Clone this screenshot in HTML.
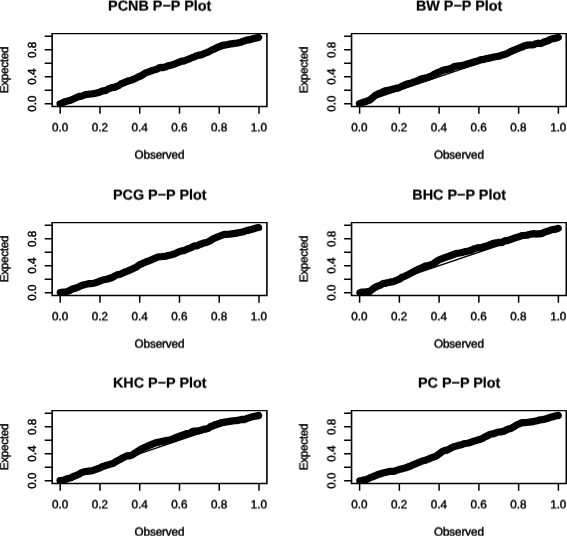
<!DOCTYPE html>
<html><head><meta charset="utf-8"><title>P-P Plots</title>
<style>
html,body{margin:0;padding:0;background:#fff;}
body{width:567px;height:536px;overflow:hidden;}
svg{display:block;}
text{font-family:"Liberation Sans",Arial,Helvetica,sans-serif;fill:#000;text-rendering:geometricPrecision;}
.t{font-size:14.4px;font-weight:bold;text-anchor:middle;stroke:#000;stroke-width:0.2px;}
.l{font-size:11.7px;text-anchor:middle;stroke:#000;stroke-width:0.45px;}
.ob{letter-spacing:-0.1px;}
.ex{letter-spacing:-0.3px;}
.ax{stroke:#000;stroke-width:1.15;fill:none;stroke-linecap:butt;}
.pts{stroke:#000;stroke-width:7.2;fill:none;stroke-linecap:round;stroke-linejoin:round;}
.ref{stroke:#000;stroke-width:1.4;fill:none;}
</style></head><body>
<svg width="567" height="536" viewBox="0 0 567 536">
<rect x="0" y="0" width="567" height="536" fill="#fff"/>

<defs><filter id="y12" x="-5%" y="-40%" width="110%" height="180%" color-interpolation-filters="sRGB"><feConvolveMatrix order="1 2" kernelMatrix="0.40 0.60" divisor="1" targetX="0" targetY="1" edgeMode="none" preserveAlpha="false"/></filter><filter id="y7" x="-5%" y="-40%" width="110%" height="180%" color-interpolation-filters="sRGB"><feConvolveMatrix order="1 2" kernelMatrix="0.65 0.35" divisor="1" targetX="0" targetY="1" edgeMode="none" preserveAlpha="false"/></filter><filter id="y13" x="-5%" y="-40%" width="110%" height="180%" color-interpolation-filters="sRGB"><feConvolveMatrix order="1 2" kernelMatrix="0.35 0.65" divisor="1" targetX="0" targetY="1" edgeMode="none" preserveAlpha="false"/></filter><filter id="x4" x="-40%" y="-5%" width="180%" height="110%" color-interpolation-filters="sRGB"><feConvolveMatrix order="2 1" kernelMatrix="0.80 0.20" divisor="1" targetX="1" targetY="0" edgeMode="none" preserveAlpha="false"/></filter><filter id="x8" x="-40%" y="-5%" width="180%" height="110%" color-interpolation-filters="sRGB"><feConvolveMatrix order="2 1" kernelMatrix="0.60 0.40" divisor="1" targetX="1" targetY="0" edgeMode="none" preserveAlpha="false"/></filter><filter id="x12" x="-40%" y="-5%" width="180%" height="110%" color-interpolation-filters="sRGB"><feConvolveMatrix order="2 1" kernelMatrix="0.40 0.60" divisor="1" targetX="1" targetY="0" edgeMode="none" preserveAlpha="false"/></filter></defs>
<g id="p1">
<clipPath id="c1"><rect x="52.10" y="33.60" width="214.70" height="72.80"/></clipPath>
<g filter="url(#y12)"><text class="t" x="159.75" y="10">PCNB P−P Plot</text></g>
<g clip-path="url(#c1)">
<line class="ref" x1="60.05" y1="103.70" x2="258.85" y2="36.30"/>
<path class="pts" d="M60.05 103.70 L61.65 103.45 L63.25 102.31 L64.85 101.74 L66.45 101.29 L68.05 100.88 L69.65 100.43 L71.25 99.99 L72.85 99.29 L74.45 98.55 L76.05 97.79 L77.65 97.05 L79.25 96.42 L80.85 96.38 L82.45 95.91 L84.05 95.10 L85.65 94.62 L87.25 94.45 L88.85 94.18 L90.45 94.02 L92.05 93.86 L93.65 93.57 L95.25 93.34 L96.85 92.92 L98.45 92.50 L100.05 92.08 L101.65 91.31 L103.25 90.77 L104.85 90.75 L106.45 90.20 L108.05 89.05 L109.65 88.47 L111.25 87.90 L112.85 87.32 L114.45 87.34 L116.05 86.63 L117.65 85.93 L119.25 85.22 L120.85 83.95 L122.45 83.31 L124.05 82.72 L125.65 81.93 L127.25 81.34 L128.85 80.75 L130.45 80.48 L132.05 79.81 L133.65 79.12 L135.25 78.45 L136.85 77.70 L138.45 76.80 L140.05 76.30 L141.65 75.40 L143.25 74.51 L144.85 73.26 L146.45 72.59 L148.05 72.12 L149.65 71.45 L151.25 70.81 L152.85 70.24 L154.45 69.97 L156.05 69.40 L157.65 68.82 L159.25 67.77 L160.85 67.42 L162.45 67.64 L164.05 67.29 L165.65 66.94 L167.25 65.97 L168.85 65.62 L170.45 65.33 L172.05 64.97 L173.65 64.36 L175.25 63.75 L176.85 63.05 L178.45 62.44 L180.05 61.81 L181.65 61.17 L183.25 61.27 L184.85 60.63 L186.45 59.98 L188.05 59.31 L189.65 58.71 L191.25 58.04 L192.85 57.36 L194.45 56.88 L196.05 55.88 L197.65 55.50 L199.25 55.11 L200.85 54.88 L202.45 54.29 L204.05 53.65 L205.65 53.01 L207.25 52.39 L208.85 51.68 L210.45 50.81 L212.05 49.95 L213.65 49.39 L215.25 48.53 L216.85 47.60 L218.45 46.96 L220.05 46.25 L221.65 45.61 L223.25 45.13 L224.85 45.03 L226.45 44.77 L228.05 44.51 L229.65 44.04 L231.25 43.82 L232.85 43.60 L234.45 43.37 L236.05 43.22 L237.65 42.91 L239.25 42.58 L240.85 42.19 L242.45 41.40 L244.05 41.01 L245.65 40.47 L247.25 39.93 L248.85 40.02 L250.45 39.47 L252.05 39.05 L253.65 38.55 L255.25 38.21 L256.85 37.88 L258.45 37.54 L258.57 37.43"/>
</g>
<path class="ax" style="stroke-width:1.25" d="M51.50 33.60H267.50"/>
<path class="ax" style="stroke-width:1.6;stroke-linejoin:miter" d="M52.15 33.60V106.50H266.90V33.60"/>
<path class="ax" style="stroke-width:1.5" d="M60.20 106.40v7.3M52.10 103.70h-7.4M99.96 106.40v7.3M52.10 90.22h-7.4M139.72 106.40v7.3M52.10 76.74h-7.4M179.48 106.40v7.3M52.10 63.26h-7.4M219.24 106.40v7.3M52.10 49.78h-7.4M259.00 106.40v7.3M52.10 36.30h-7.4"/>
<g filter="url(#y7)"><text class="l" x="60.05" y="131">0.0</text></g>
<g filter="url(#y7)"><text class="l" x="99.81" y="131">0.2</text></g>
<g filter="url(#y7)"><text class="l" x="139.57" y="131">0.4</text></g>
<g filter="url(#y7)"><text class="l" x="179.33" y="131">0.6</text></g>
<g filter="url(#y7)"><text class="l" x="219.09" y="131">0.8</text></g>
<g filter="url(#y7)"><text class="l" x="258.85" y="131">1.0</text></g>
<text class="l" transform="translate(36 103.70) rotate(-90)">0.0</text>
<text class="l" transform="translate(36 76.74) rotate(-90)">0.4</text>
<text class="l" transform="translate(36 49.78) rotate(-90)">0.8</text>
<g filter="url(#y13)"><text class="l ob" x="159.45" y="158">Observed</text></g>
<g filter="url(#x4)"><text class="l ex" transform="translate(8 70.00) rotate(-90)">Expected</text></g>
</g>
<g id="p2">
<clipPath id="c2"><rect x="351.50" y="33.60" width="214.70" height="72.80"/></clipPath>
<g filter="url(#y12)"><text class="t" x="459.15" y="10">BW P−P Plot</text></g>
<g clip-path="url(#c2)">
<line class="ref" x1="359.45" y1="103.70" x2="558.25" y2="36.30"/>
<path class="pts" d="M359.45 103.70 L361.05 103.06 L362.65 102.53 L364.25 101.97 L365.85 101.50 L367.45 100.93 L369.05 100.35 L370.65 99.37 L372.25 97.99 L373.85 96.61 L375.45 95.24 L377.05 94.47 L378.65 93.64 L380.25 93.06 L381.85 92.49 L383.45 91.38 L385.05 90.86 L386.65 90.66 L388.25 90.34 L389.85 89.83 L391.45 89.51 L393.05 89.03 L394.65 88.66 L396.25 88.12 L397.85 88.07 L399.45 87.51 L401.05 86.57 L402.65 85.96 L404.25 85.35 L405.85 84.37 L407.45 83.82 L409.05 83.62 L410.65 83.08 L412.25 82.53 L413.85 81.94 L415.45 81.60 L417.05 80.93 L418.65 80.26 L420.25 79.27 L421.85 78.80 L423.45 78.36 L425.05 78.08 L426.65 77.64 L428.25 77.18 L429.85 76.54 L431.45 75.87 L433.05 75.20 L434.65 73.94 L436.25 73.21 L437.85 72.44 L439.45 72.02 L441.05 71.25 L442.65 70.52 L444.25 70.02 L445.85 69.54 L447.45 69.42 L449.05 68.94 L450.65 68.44 L452.25 67.93 L453.85 66.79 L455.45 66.28 L457.05 66.14 L458.65 65.82 L460.25 65.77 L461.85 65.45 L463.45 65.13 L465.05 64.74 L466.65 64.05 L468.25 63.64 L469.85 63.13 L471.45 62.70 L473.05 62.23 L474.65 61.78 L476.25 61.33 L477.85 60.89 L479.45 60.14 L481.05 59.63 L482.65 59.73 L484.25 59.21 L485.85 58.76 L487.45 58.41 L489.05 58.11 L490.65 57.76 L492.25 57.41 L493.85 57.08 L495.45 56.76 L497.05 56.44 L498.65 56.17 L500.25 55.85 L501.85 55.11 L503.45 54.66 L505.05 54.21 L506.65 53.76 L508.25 52.83 L509.85 52.03 L511.45 51.23 L513.05 50.43 L514.65 49.97 L516.25 49.26 L517.85 48.56 L519.45 47.95 L521.05 47.25 L522.65 46.75 L524.25 45.84 L525.85 45.49 L527.45 45.14 L529.05 44.99 L530.65 44.77 L532.25 44.98 L533.85 44.75 L535.45 43.83 L537.05 43.52 L538.65 43.17 L540.25 43.55 L541.85 43.20 L543.45 42.33 L545.05 41.63 L546.65 41.28 L548.25 40.58 L549.85 39.58 L551.45 39.07 L553.05 38.64 L554.65 38.46 L556.25 38.03 L557.85 37.60 L558.29 37.29"/>
</g>
<path class="ax" style="stroke-width:1.25" d="M350.90 33.60H566.90"/>
<path class="ax" style="stroke-width:1.6;stroke-linejoin:miter" d="M351.55 33.60V106.50H566.30V33.60"/>
<path class="ax" style="stroke-width:1.5" d="M359.60 106.40v7.3M351.50 103.70h-7.4M399.36 106.40v7.3M351.50 90.22h-7.4M439.12 106.40v7.3M351.50 76.74h-7.4M478.88 106.40v7.3M351.50 63.26h-7.4M518.64 106.40v7.3M351.50 49.78h-7.4M558.40 106.40v7.3M351.50 36.30h-7.4"/>
<g filter="url(#y7)"><text class="l" x="359.45" y="131">0.0</text></g>
<g filter="url(#y7)"><text class="l" x="399.21" y="131">0.2</text></g>
<g filter="url(#y7)"><text class="l" x="438.97" y="131">0.4</text></g>
<g filter="url(#y7)"><text class="l" x="478.73" y="131">0.6</text></g>
<g filter="url(#y7)"><text class="l" x="518.49" y="131">0.8</text></g>
<g filter="url(#y7)"><text class="l" x="558.25" y="131">1.0</text></g>
<g filter="url(#x8)"><text class="l" transform="translate(335 103.70) rotate(-90)">0.0</text></g>
<g filter="url(#x8)"><text class="l" transform="translate(335 76.74) rotate(-90)">0.4</text></g>
<g filter="url(#x8)"><text class="l" transform="translate(335 49.78) rotate(-90)">0.8</text></g>
<g filter="url(#y13)"><text class="l ob" x="458.85" y="158">Observed</text></g>
<g filter="url(#x12)"><text class="l ex" transform="translate(307 70.00) rotate(-90)">Expected</text></g>
</g>
<g id="p3">
<clipPath id="c3"><rect x="52.10" y="222.60" width="214.70" height="72.80"/></clipPath>
<g filter="url(#y12)"><text class="t" x="159.75" y="199">PCG P−P Plot</text></g>
<g clip-path="url(#c3)">
<line class="ref" x1="60.05" y1="292.70" x2="258.85" y2="225.30"/>
<path class="pts" d="M60.30 292.60 L61.90 292.32 L63.50 292.10 L65.10 292.00 L66.70 291.66 L68.30 291.09 L69.90 290.47 L71.50 289.39 L73.10 288.66 L74.70 288.56 L76.30 287.87 L77.90 287.19 L79.50 286.52 L81.10 285.59 L82.70 285.08 L84.30 284.93 L85.90 284.42 L87.50 283.91 L89.10 283.60 L90.70 283.60 L92.30 283.49 L93.90 283.17 L95.50 282.70 L97.10 282.23 L98.70 281.65 L100.30 280.83 L101.90 280.29 L103.50 279.88 L105.10 279.48 L106.70 279.29 L108.30 278.78 L109.90 278.27 L111.50 277.73 L113.10 277.19 L114.70 275.95 L116.30 275.28 L117.90 274.60 L119.50 274.48 L121.10 273.80 L122.70 273.12 L124.30 272.35 L125.90 271.67 L127.50 271.11 L129.10 270.43 L130.70 269.73 L132.30 269.03 L133.90 268.15 L135.50 267.45 L137.10 266.63 L138.70 265.24 L140.30 264.31 L141.90 263.83 L143.50 262.92 L145.10 262.31 L146.70 261.63 L148.30 261.02 L149.90 260.41 L151.50 259.81 L153.10 259.04 L154.70 258.43 L156.30 257.62 L157.90 257.05 L159.50 256.76 L161.10 256.74 L162.70 256.46 L164.30 256.52 L165.90 256.21 L167.50 255.56 L169.10 255.24 L170.70 254.92 L172.30 254.55 L173.90 254.07 L175.50 253.49 L177.10 252.57 L178.70 251.99 L180.30 251.37 L181.90 250.74 L183.50 250.70 L185.10 250.06 L186.70 249.34 L188.30 248.70 L189.90 248.16 L191.50 247.52 L193.10 246.42 L194.70 245.95 L196.30 246.00 L197.90 245.59 L199.50 244.51 L201.10 244.10 L202.70 243.43 L204.30 242.76 L205.90 242.72 L207.50 242.05 L209.10 241.31 L210.70 240.51 L212.30 239.33 L213.90 238.53 L215.50 237.78 L217.10 237.14 L218.70 236.51 L220.30 235.87 L221.90 235.23 L223.50 234.58 L225.10 234.35 L226.70 234.50 L228.30 234.28 L229.90 234.06 L231.50 233.87 L233.10 233.64 L234.70 233.42 L236.30 233.15 L237.90 232.89 L239.50 232.56 L241.10 232.27 L242.70 231.99 L244.30 231.44 L245.90 230.90 L247.50 230.36 L249.10 230.12 L250.70 229.57 L252.30 229.16 L253.90 228.79 L255.50 228.18 L257.10 227.81 L258.57 227.57"/>
</g>
<path class="ax" style="stroke-width:1.25" d="M51.50 222.60H267.50"/>
<path class="ax" style="stroke-width:1.6;stroke-linejoin:miter" d="M52.15 222.60V295.50H266.90V222.60"/>
<path class="ax" style="stroke-width:1.5" d="M60.20 295.40v7.3M52.10 292.70h-7.4M99.96 295.40v7.3M52.10 279.22h-7.4M139.72 295.40v7.3M52.10 265.74h-7.4M179.48 295.40v7.3M52.10 252.26h-7.4M219.24 295.40v7.3M52.10 238.78h-7.4M259.00 295.40v7.3M52.10 225.30h-7.4"/>
<g filter="url(#y7)"><text class="l" x="60.05" y="320">0.0</text></g>
<g filter="url(#y7)"><text class="l" x="99.81" y="320">0.2</text></g>
<g filter="url(#y7)"><text class="l" x="139.57" y="320">0.4</text></g>
<g filter="url(#y7)"><text class="l" x="179.33" y="320">0.6</text></g>
<g filter="url(#y7)"><text class="l" x="219.09" y="320">0.8</text></g>
<g filter="url(#y7)"><text class="l" x="258.85" y="320">1.0</text></g>
<text class="l" transform="translate(36 292.70) rotate(-90)">0.0</text>
<text class="l" transform="translate(36 265.74) rotate(-90)">0.4</text>
<text class="l" transform="translate(36 238.78) rotate(-90)">0.8</text>
<g filter="url(#y13)"><text class="l ob" x="159.45" y="347">Observed</text></g>
<g filter="url(#x4)"><text class="l ex" transform="translate(8 259.00) rotate(-90)">Expected</text></g>
</g>
<g id="p4">
<clipPath id="c4"><rect x="351.50" y="222.60" width="214.70" height="72.80"/></clipPath>
<g filter="url(#y12)"><text class="t" x="459.15" y="199">BHC P−P Plot</text></g>
<g clip-path="url(#c4)">
<line class="ref" x1="359.45" y1="292.70" x2="558.25" y2="225.30"/>
<path class="pts" d="M359.90 292.60 L361.50 292.09 L363.10 291.98 L364.70 291.98 L366.30 291.79 L367.90 291.57 L369.50 291.55 L371.10 290.37 L372.70 288.97 L374.30 287.82 L375.90 287.00 L377.50 286.18 L379.10 285.63 L380.70 284.94 L382.30 283.92 L383.90 283.32 L385.50 283.31 L387.10 282.76 L388.70 282.50 L390.30 282.11 L391.90 281.84 L393.50 281.55 L395.10 280.96 L396.70 280.35 L398.30 279.60 L399.90 278.94 L401.50 277.62 L403.10 276.87 L404.70 276.36 L406.30 275.59 L407.90 274.83 L409.50 274.06 L411.10 273.05 L412.70 272.18 L414.30 271.28 L415.90 270.39 L417.50 269.81 L419.10 268.97 L420.70 268.16 L422.30 267.42 L423.90 266.68 L425.50 265.94 L427.10 265.89 L428.70 265.41 L430.30 264.93 L431.90 264.45 L433.50 263.62 L435.10 262.56 L436.70 261.30 L438.30 260.25 L439.90 259.50 L441.50 258.86 L443.10 258.30 L444.70 257.69 L446.30 257.08 L447.90 256.56 L449.50 256.05 L451.10 255.54 L452.70 254.80 L454.30 254.29 L455.90 253.60 L457.50 253.28 L459.10 253.09 L460.70 252.77 L462.30 252.39 L463.90 252.00 L465.50 251.62 L467.10 251.33 L468.70 250.94 L470.30 250.44 L471.90 249.95 L473.50 249.06 L475.10 248.58 L476.70 248.13 L478.30 247.68 L479.90 247.89 L481.50 247.44 L483.10 246.94 L484.70 246.43 L486.30 246.09 L487.90 245.58 L489.50 244.76 L491.10 244.37 L492.70 243.56 L494.30 243.17 L495.90 242.79 L497.50 242.59 L499.10 242.31 L500.70 242.70 L502.30 242.41 L503.90 241.23 L505.50 240.69 L507.10 240.74 L508.70 240.20 L510.30 239.65 L511.90 239.01 L513.50 238.42 L515.10 237.85 L516.70 237.30 L518.30 236.95 L519.90 236.41 L521.50 235.69 L523.10 235.48 L524.70 235.39 L526.30 235.23 L527.90 235.06 L529.50 234.26 L531.10 234.07 L532.70 233.88 L534.30 233.69 L535.90 234.13 L537.50 233.91 L539.10 233.81 L540.70 233.59 L542.30 233.36 L543.90 232.42 L545.50 231.88 L547.10 231.33 L548.70 230.79 L550.30 230.24 L551.90 229.84 L553.50 229.44 L555.10 229.32 L556.70 228.92 L558.29 228.43"/>
</g>
<path class="ax" style="stroke-width:1.25" d="M350.90 222.60H566.90"/>
<path class="ax" style="stroke-width:1.6;stroke-linejoin:miter" d="M351.55 222.60V295.50H566.30V222.60"/>
<path class="ax" style="stroke-width:1.5" d="M359.60 295.40v7.3M351.50 292.70h-7.4M399.36 295.40v7.3M351.50 279.22h-7.4M439.12 295.40v7.3M351.50 265.74h-7.4M478.88 295.40v7.3M351.50 252.26h-7.4M518.64 295.40v7.3M351.50 238.78h-7.4M558.40 295.40v7.3M351.50 225.30h-7.4"/>
<g filter="url(#y7)"><text class="l" x="359.45" y="320">0.0</text></g>
<g filter="url(#y7)"><text class="l" x="399.21" y="320">0.2</text></g>
<g filter="url(#y7)"><text class="l" x="438.97" y="320">0.4</text></g>
<g filter="url(#y7)"><text class="l" x="478.73" y="320">0.6</text></g>
<g filter="url(#y7)"><text class="l" x="518.49" y="320">0.8</text></g>
<g filter="url(#y7)"><text class="l" x="558.25" y="320">1.0</text></g>
<g filter="url(#x8)"><text class="l" transform="translate(335 292.70) rotate(-90)">0.0</text></g>
<g filter="url(#x8)"><text class="l" transform="translate(335 265.74) rotate(-90)">0.4</text></g>
<g filter="url(#x8)"><text class="l" transform="translate(335 238.78) rotate(-90)">0.8</text></g>
<g filter="url(#y13)"><text class="l ob" x="458.85" y="347">Observed</text></g>
<g filter="url(#x12)"><text class="l ex" transform="translate(307 259.00) rotate(-90)">Expected</text></g>
</g>
<g id="p5">
<clipPath id="c5"><rect x="52.10" y="410.60" width="214.70" height="72.80"/></clipPath>
<g filter="url(#y12)"><text class="t" x="159.75" y="387">KHC P−P Plot</text></g>
<g clip-path="url(#c5)">
<line class="ref" x1="60.05" y1="480.70" x2="258.85" y2="413.30"/>
<path class="pts" d="M60.05 480.70 L61.65 480.59 L63.25 480.16 L64.85 479.73 L66.45 478.99 L68.05 478.55 L69.65 478.10 L71.25 477.65 L72.85 476.73 L74.45 475.93 L76.05 475.60 L77.65 474.80 L79.25 474.11 L80.85 472.87 L82.45 472.33 L84.05 471.78 L85.65 471.48 L87.25 471.30 L88.85 471.12 L90.45 470.95 L92.05 470.73 L93.65 470.19 L95.25 469.64 L96.85 468.99 L98.45 468.44 L100.05 467.83 L101.65 466.98 L103.25 466.37 L104.85 465.77 L106.45 465.20 L108.05 464.96 L109.65 464.42 L111.25 463.88 L112.85 463.44 L114.45 462.60 L116.05 461.51 L117.65 460.67 L119.25 459.84 L120.85 459.06 L122.45 457.93 L124.05 457.16 L125.65 456.40 L127.25 455.71 L128.85 455.98 L130.45 455.46 L132.05 454.95 L133.65 453.91 L135.25 452.98 L136.85 451.90 L138.45 450.90 L140.05 449.91 L141.65 448.92 L143.25 448.05 L144.85 447.19 L146.45 446.79 L148.05 445.93 L149.65 445.32 L151.25 444.59 L152.85 443.95 L154.45 443.22 L156.05 442.70 L157.65 442.41 L159.25 442.12 L160.85 441.65 L162.45 441.36 L164.05 441.11 L165.65 440.56 L167.25 440.30 L168.85 440.03 L170.45 439.66 L172.05 439.19 L173.65 438.58 L175.25 437.78 L176.85 437.17 L178.45 436.56 L180.05 435.95 L181.65 435.45 L183.25 434.85 L184.85 434.24 L186.45 433.64 L188.05 433.59 L189.65 433.01 L191.25 432.43 L192.85 431.39 L194.45 431.09 L196.05 431.10 L197.65 430.96 L199.25 430.81 L200.85 430.25 L202.45 429.75 L204.05 429.17 L205.65 429.22 L207.25 428.64 L208.85 428.02 L210.45 426.64 L212.05 425.94 L213.65 425.23 L215.25 424.53 L216.85 424.14 L218.45 423.60 L220.05 423.05 L221.65 422.51 L223.25 422.34 L224.85 422.11 L226.45 421.89 L228.05 421.66 L229.65 421.36 L231.25 421.14 L232.85 420.92 L234.45 420.69 L236.05 420.60 L237.65 420.36 L239.25 420.11 L240.85 419.59 L242.45 419.34 L244.05 419.62 L245.65 419.11 L247.25 418.36 L248.85 417.85 L250.45 417.34 L252.05 416.79 L253.65 416.48 L255.25 416.18 L256.85 415.87 L258.45 415.62 L258.57 415.57"/>
</g>
<path class="ax" style="stroke-width:1.25" d="M51.50 410.60H267.50"/>
<path class="ax" style="stroke-width:1.6;stroke-linejoin:miter" d="M52.15 410.60V483.50H266.90V410.60"/>
<path class="ax" style="stroke-width:1.5" d="M60.20 483.40v7.3M52.10 480.70h-7.4M99.96 483.40v7.3M52.10 467.22h-7.4M139.72 483.40v7.3M52.10 453.74h-7.4M179.48 483.40v7.3M52.10 440.26h-7.4M219.24 483.40v7.3M52.10 426.78h-7.4M259.00 483.40v7.3M52.10 413.30h-7.4"/>
<g filter="url(#y7)"><text class="l" x="60.05" y="508">0.0</text></g>
<g filter="url(#y7)"><text class="l" x="99.81" y="508">0.2</text></g>
<g filter="url(#y7)"><text class="l" x="139.57" y="508">0.4</text></g>
<g filter="url(#y7)"><text class="l" x="179.33" y="508">0.6</text></g>
<g filter="url(#y7)"><text class="l" x="219.09" y="508">0.8</text></g>
<g filter="url(#y7)"><text class="l" x="258.85" y="508">1.0</text></g>
<text class="l" transform="translate(36 480.70) rotate(-90)">0.0</text>
<text class="l" transform="translate(36 453.74) rotate(-90)">0.4</text>
<text class="l" transform="translate(36 426.78) rotate(-90)">0.8</text>
<g filter="url(#y13)"><text class="l ob" x="159.45" y="535">Observed</text></g>
<g filter="url(#x4)"><text class="l ex" transform="translate(8 447.00) rotate(-90)">Expected</text></g>
</g>
<g id="p6">
<clipPath id="c6"><rect x="351.50" y="410.60" width="214.70" height="72.80"/></clipPath>
<g filter="url(#y12)"><text class="t" x="459.15" y="387">PC P−P Plot</text></g>
<g clip-path="url(#c6)">
<line class="ref" x1="359.45" y1="480.70" x2="558.25" y2="413.30"/>
<path class="pts" d="M359.80 480.80 L361.40 480.54 L363.00 480.14 L364.60 479.74 L366.20 479.48 L367.80 479.00 L369.40 477.99 L371.00 477.33 L372.60 476.87 L374.20 476.17 L375.80 475.46 L377.40 474.75 L379.00 474.23 L380.60 473.72 L382.20 473.24 L383.80 472.81 L385.40 472.45 L387.00 472.09 L388.60 471.62 L390.20 471.44 L391.80 471.25 L393.40 471.39 L395.00 471.07 L396.60 470.32 L398.20 469.81 L399.80 469.30 L401.40 469.01 L403.00 468.57 L404.60 468.14 L406.20 467.70 L407.80 467.03 L409.40 466.49 L411.00 465.94 L412.60 464.96 L414.20 464.33 L415.80 463.77 L417.40 463.06 L419.00 462.39 L420.60 461.70 L422.20 461.14 L423.80 460.58 L425.40 460.23 L427.00 459.67 L428.60 459.11 L430.20 458.22 L431.80 457.68 L433.40 457.14 L435.00 456.59 L436.60 455.77 L438.20 454.64 L439.80 453.52 L441.40 452.17 L443.00 451.19 L444.60 450.46 L446.20 450.40 L447.80 449.67 L449.40 448.94 L451.00 448.02 L452.60 447.29 L454.20 446.55 L455.80 446.15 L457.40 445.69 L459.00 445.31 L460.60 444.92 L462.20 444.57 L463.80 443.82 L465.40 443.50 L467.00 443.28 L468.60 442.95 L470.20 442.55 L471.80 441.98 L473.40 441.40 L475.00 440.82 L476.60 440.45 L478.20 439.82 L479.80 439.43 L481.40 438.79 L483.00 438.15 L484.60 437.06 L486.20 436.35 L487.80 435.65 L489.40 434.63 L491.00 434.06 L492.60 434.02 L494.20 433.54 L495.80 433.06 L497.40 432.33 L499.00 432.01 L500.60 431.91 L502.20 431.59 L503.80 431.27 L505.40 430.35 L507.00 429.64 L508.60 428.94 L510.20 428.72 L511.80 427.96 L513.40 427.01 L515.00 426.13 L516.60 424.95 L518.20 424.25 L519.80 423.57 L521.40 422.87 L523.00 422.57 L524.60 422.68 L526.20 422.49 L527.80 422.30 L529.40 422.08 L531.00 421.85 L532.60 421.59 L534.20 421.33 L535.80 420.99 L537.40 420.68 L539.00 420.10 L540.60 419.78 L542.20 419.76 L543.80 419.36 L545.40 419.03 L547.00 418.52 L548.60 418.01 L550.20 417.32 L551.80 416.96 L553.40 416.62 L555.00 416.02 L556.60 415.67 L558.20 415.33 L558.29 415.57"/>
</g>
<path class="ax" style="stroke-width:1.25" d="M350.90 410.60H566.90"/>
<path class="ax" style="stroke-width:1.6;stroke-linejoin:miter" d="M351.55 410.60V483.50H566.30V410.60"/>
<path class="ax" style="stroke-width:1.5" d="M359.60 483.40v7.3M351.50 480.70h-7.4M399.36 483.40v7.3M351.50 467.22h-7.4M439.12 483.40v7.3M351.50 453.74h-7.4M478.88 483.40v7.3M351.50 440.26h-7.4M518.64 483.40v7.3M351.50 426.78h-7.4M558.40 483.40v7.3M351.50 413.30h-7.4"/>
<g filter="url(#y7)"><text class="l" x="359.45" y="508">0.0</text></g>
<g filter="url(#y7)"><text class="l" x="399.21" y="508">0.2</text></g>
<g filter="url(#y7)"><text class="l" x="438.97" y="508">0.4</text></g>
<g filter="url(#y7)"><text class="l" x="478.73" y="508">0.6</text></g>
<g filter="url(#y7)"><text class="l" x="518.49" y="508">0.8</text></g>
<g filter="url(#y7)"><text class="l" x="558.25" y="508">1.0</text></g>
<g filter="url(#x8)"><text class="l" transform="translate(335 480.70) rotate(-90)">0.0</text></g>
<g filter="url(#x8)"><text class="l" transform="translate(335 453.74) rotate(-90)">0.4</text></g>
<g filter="url(#x8)"><text class="l" transform="translate(335 426.78) rotate(-90)">0.8</text></g>
<g filter="url(#y13)"><text class="l ob" x="458.85" y="535">Observed</text></g>
<g filter="url(#x12)"><text class="l ex" transform="translate(307 447.00) rotate(-90)">Expected</text></g>
</g>
</svg></body></html>
